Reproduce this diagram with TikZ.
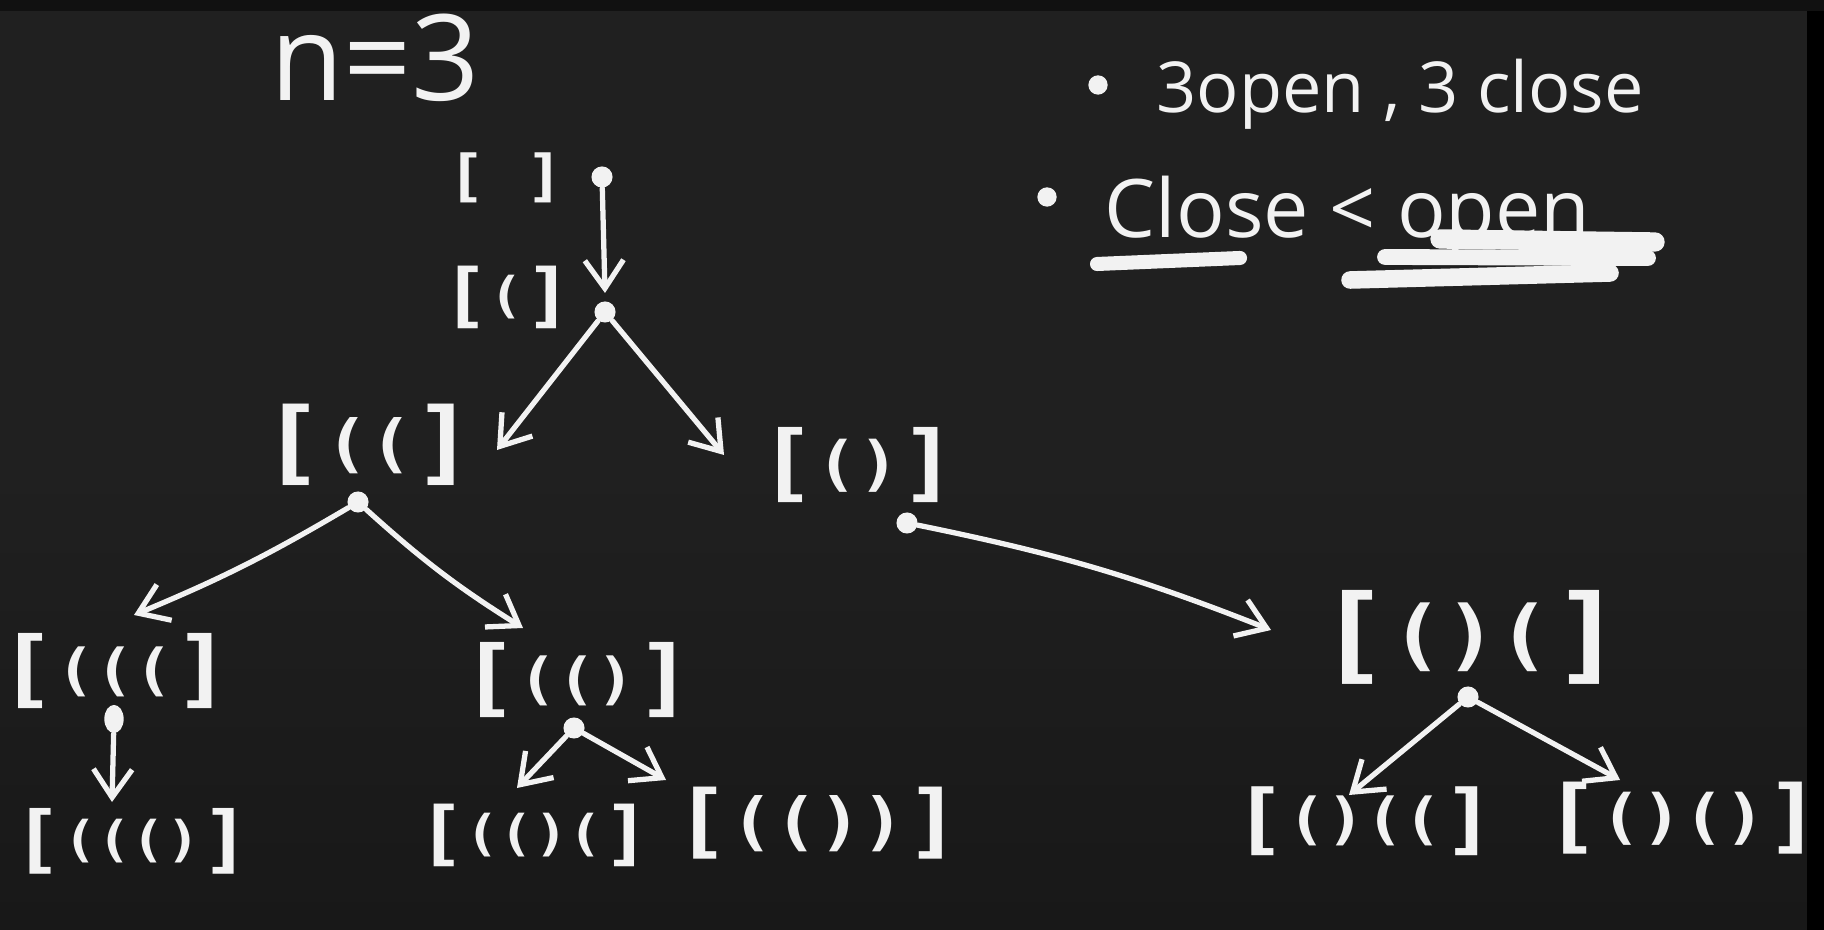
\documentclass[tikz,border=0pt]{standalone}
\usepackage{fontspec}
\setmainfont{Open Sans}
\newfontfamily\monof{DejaVu Sans Mono}
\usetikzlibrary{arrows.meta,shapes.geometric}
\definecolor{bgtop}{HTML}{202020}
\definecolor{bgbot}{HTML}{181818}
\definecolor{ink}{HTML}{F2F2F2}
\definecolor{topbar}{HTML}{111111}
\newcommand{\sq}[3]{\scalebox{1.15}[1]{\monof\bfseries\fontsize{#1}{#1}\selectfont[\raisebox{\dimexpr(#1pt-#2pt)*3/10\relax}{\fontsize{#2}{#2}\selectfont #3}]}}
\tikzset{
  lab/.style={text=ink, inner sep=0pt},
  txt/.style={text=ink, inner sep=0pt},
  dot/.style={circle, fill=ink, inner sep=0pt, minimum size=6pt},
  bullet/.style={circle, fill=ink, inner sep=0pt, minimum size=5.5pt},
  arr/.style={draw=ink, line width=1.5pt, line cap=round,
    -{Straight Barb[length=8pt, width=11pt, line width=1.5pt]}},
  scrib/.style={draw=ink, line cap=round},
}
\begin{document}
\begin{tikzpicture}[x=0.1mm,y=-0.1mm]
\shade[top color=bgtop, bottom color=bgbot, middle color=bgtop] (0,0) rectangle (1824,930);
\useasboundingbox (0,0) rectangle (1824,930);

% title and notes
\node[txt, font=\fontsize{34}{34}\selectfont] (title) at (375,58) {n=3};
\node[bullet] (b1) at (1098,85) {};
\node[txt, anchor=base west, font=\fontsize{20}{20}\selectfont] (l1) at (1156,113) {3open , 3 close};
\node[bullet] (b2) at (1047,197) {};
\node[txt, anchor=base west, font=\fontsize{23}{23}\selectfont] (l2) at (1104,238) {Close < open};
\draw[scrib, line width=4pt] (1097,264) -- (1240,258);
\draw[scrib, line width=5.5pt] (1440,239) -- (1655,242);
\draw[scrib, line width=4.5pt] (1385,257) -- (1648,258);
\draw[scrib, line width=5pt] (1350,280) -- (1610,273);

% tree labels
\node[lab] (r0) at (506,178) {\sq{16}{16}{\ }};
\node[lab] (r1) at (507,297) {\sq{20}{14}{(}};
\node[lab] (n2) at (369,445) {\sq{26}{18}{((}};
\node[lab] (n3) at (858,465) {\sq{24}{17}{()}};
\node[lab] (n4) at (115,671) {\sq{24}{16}{(((}};
\node[lab] (n5) at (577,680) {\sq{24}{16}{(()}};
\node[lab] (n6) at (1471,637) {\sq{30}{22}{()(}};
\node[lab] (n7) at (132,841) {\sq{21}{14}{((()}};
\node[lab] (n8) at (534,835) {\sq{20}{14}{(()(}};
\node[lab] (n9) at (818,823) {\sq{23}{18}{(())}};
\node[lab] (n10) at (1365,821) {\sq{22}{16}{()((}};
\node[lab] (n11) at (1683,818) {\sq{23}{17}{()()}};

% dots
\node[dot] (d0) at (602,177) {};
\node[dot] (d1) at (605,312) {};
\node[dot] (d2) at (358,502) {};
\node[dot] (d3) at (907,523) {};
\node[ellipse, fill=ink, inner sep=0pt, minimum width=5.5pt, minimum height=8pt] (d4) at (114,719) {};
\node[dot] (d5) at (574,728) {};
\node[dot] (d6) at (1468,697) {};

% arrow tips
\coordinate (t0) at (605,293);
\coordinate (t1a) at (497,450);
\coordinate (t1b) at (724,455);
\coordinate (t2a) at (134,615);
\coordinate (t2b) at (523,628);
\coordinate (t3) at (1271,630);
\coordinate (t4) at (112,802);
\coordinate (t5a) at (517,788);
\coordinate (t5b) at (666,780);
\coordinate (t6a) at (1349,795);
\coordinate (t6b) at (1620,780);

\draw[arr] (d0) -- (t0);
\draw[arr] (d1) -- (t1a);
\draw[arr] (d1) -- (t1b);
\draw[arr] (d2) to[bend left=4] (t2a);
\draw[arr] (d2) to[bend right=5] (t2b);
\draw[arr] (d3) to[bend left=5] (t3);
\draw[arr] (d4) -- (t4);
\draw[arr] (d5) -- (t5a);
\draw[arr] (d5) -- (t5b);
\draw[arr] (d6) -- (t6a);
\draw[arr] (d6) -- (t6b);

% frame strips
\fill[topbar] (0,0) rectangle (1824,11);
\fill[black] (1807,11) rectangle (1824,930);
\end{tikzpicture}
\end{document}
